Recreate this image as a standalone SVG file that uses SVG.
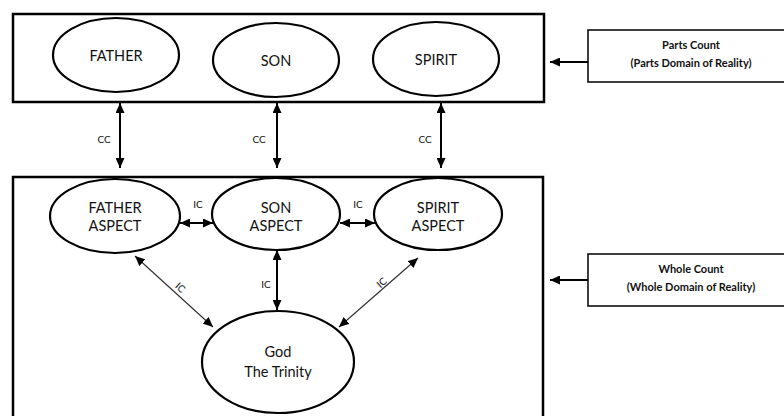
<svg xmlns="http://www.w3.org/2000/svg" width="784" height="416" viewBox="0 0 784 416">
<defs>
<marker id="ah" markerUnits="userSpaceOnUse" markerWidth="11" markerHeight="9" refX="10" refY="4.5" orient="auto-start-reverse">
<path d="M0,0 L10,4.5 L0,9 z" fill="#000"/>
</marker>
<style>
.box{fill:#fff;stroke:#000;stroke-width:2.5}
.side{fill:#fff;stroke:#000;stroke-width:1.5}
.el{fill:#fff;stroke:#000;stroke-width:2.2}
.t{font-family:Lato,"Open Sans","Liberation Sans",sans-serif;font-size:14.5px;fill:#111;text-anchor:middle}
.s{font-family:Lato,"Open Sans","Liberation Sans",sans-serif;font-size:11px;font-weight:bold;fill:#111;text-anchor:middle}
.l{font-family:Lato,"Open Sans","Liberation Sans",sans-serif;font-size:10px;fill:#111;text-anchor:middle}
.a{stroke:#000;stroke-width:2;fill:none;marker-start:url(#ah);marker-end:url(#ah)}
.d{stroke:#333;stroke-width:1.2;fill:none;marker-start:url(#ah);marker-end:url(#ah)}
.p{stroke:#000;stroke-width:2;fill:none;marker-end:url(#ah)}
</style>
</defs>
<rect width="784" height="416" fill="#fff"/>
<g id="parts-domain"><rect class="box" x="13" y="14" width="531" height="88"/></g>
<g id="whole-domain"><rect class="box" x="13" y="177" width="530" height="260"/></g>
<g id="father"><ellipse class="el" cx="116" cy="55" rx="63" ry="37"/><text class="t" x="116" y="61">FATHER</text></g>
<g id="son"><ellipse class="el" cx="276" cy="60" rx="63" ry="37"/><text class="t" x="276" y="66">SON</text></g>
<g id="spirit"><ellipse class="el" cx="436" cy="59" rx="63" ry="37"/><text class="t" x="436" y="65">SPIRIT</text></g>
<g id="father-aspect"><ellipse class="el" cx="115" cy="216" rx="65" ry="37"/><text class="t" x="115" y="213">FATHER</text><text class="t" x="115" y="231">ASPECT</text></g>
<g id="son-aspect"><ellipse class="el" cx="276" cy="214" rx="64" ry="36"/><text class="t" x="276" y="213">SON</text><text class="t" x="276" y="231">ASPECT</text></g>
<g id="spirit-aspect"><ellipse class="el" cx="438" cy="214" rx="64" ry="36"/><text class="t" x="438" y="213">SPIRIT</text><text class="t" x="438" y="231">ASPECT</text></g>
<g id="god"><ellipse class="el" cx="278" cy="362" rx="76" ry="51"/><text class="t" x="278" y="357">God</text><text class="t" x="278" y="377">The Trinity</text></g>
<g id="parts-count"><rect class="side" x="588" y="30" width="220" height="52"/><text class="s" x="691" y="49">Parts Count</text><text class="s" x="691" y="67">(Parts Domain of Reality)</text></g>
<g id="whole-count"><rect class="side" x="588" y="254" width="220" height="52"/><text class="s" x="691" y="273">Whole Count</text><text class="s" x="691" y="291">(Whole Domain of Reality)</text></g>
<g id="connectors">
<line class="a" x1="120" y1="103" x2="120" y2="168"/>
<line class="a" x1="277" y1="103" x2="277" y2="168"/>
<line class="a" x1="441" y1="103" x2="441" y2="168"/>
<line class="a" x1="180" y1="223" x2="213" y2="223"/>
<line class="a" x1="340" y1="223" x2="375" y2="223"/>
<line class="a" x1="277" y1="250" x2="277" y2="310"/>
<line class="d" x1="135" y1="256" x2="213" y2="327"/>
<line class="d" x1="418" y1="258" x2="339" y2="327"/>
<line class="p" x1="588" y1="62" x2="550" y2="62"/>
<line class="p" x1="588" y1="280" x2="550" y2="280"/>
<text class="l" x="104" y="143">CC</text>
<text class="l" x="259" y="143">CC</text>
<text class="l" x="425" y="143">CC</text>
<text class="l" x="198" y="208">IC</text>
<text class="l" x="358" y="208">IC</text>
<text class="l" x="266" y="288">IC</text>
<text class="l" x="180" y="291" transform="rotate(42 180 288)">IC</text>
<text class="l" x="382" y="286" transform="rotate(-41 382 283)">IC</text>
</g>
</svg>
